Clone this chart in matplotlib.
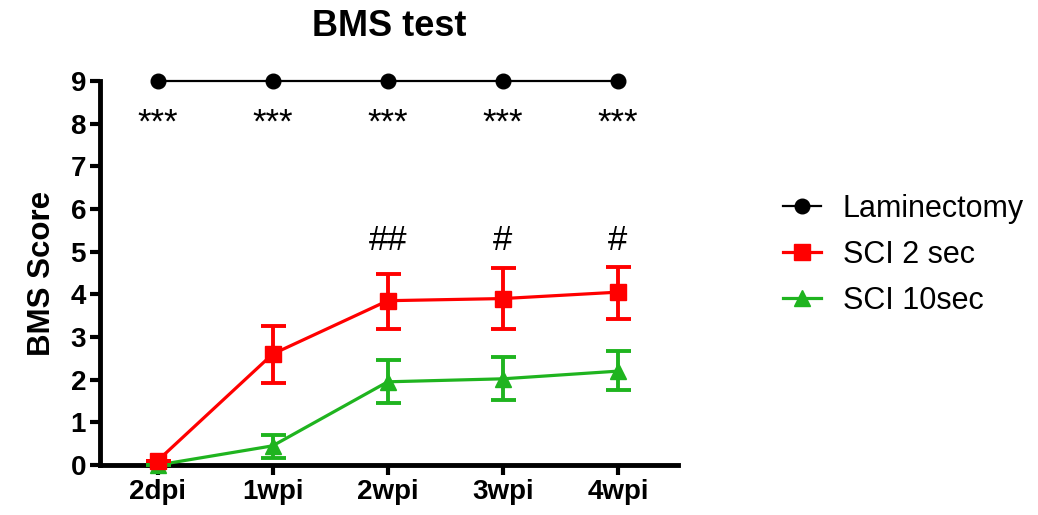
import numpy as np
import matplotlib.pyplot as plt
from matplotlib.lines import Line2D

plt.rcParams['font.family'] = ['Liberation Sans', 'DejaVu Sans']

# datos
tiempos = ['2dpi', '1wpi', '2wpi', '3wpi', '4wpi']
lamin = [9, 9, 9, 9, 9]
sci2 = [0.1, 2.6, 3.85, 3.9, 4.05]
sci2_lo = [0.1, 1.93, 3.18, 3.18, 3.43]
sci2_hi = [0.1, 3.25, 4.47, 4.62, 4.65]
sci10 = [0.0, 0.45, 1.95, 2.02, 2.2]
sci10_lo = [0.0, 0.16, 1.45, 1.52, 1.76]
sci10_hi = [0.0, 0.71, 2.45, 2.52, 2.66]
estrellas = ['***', '***', '***', '***', '***']
almohadillas = ['', '', '##', '#', '#']

x = np.arange(len(tiempos))
rojo = '#ff0000'
verde = '#1fb41f'

fig = plt.figure(figsize=(10.38, 5.15), dpi=100)
ax = fig.add_axes([0.0963, 0.097, 0.5567, 0.746])

err2 = [np.array(sci2) - np.array(sci2_lo), np.array(sci2_hi) - np.array(sci2)]
err10 = [np.array(sci10) - np.array(sci10_lo), np.array(sci10_hi) - np.array(sci10)]

ax.plot(x, lamin, color='black', lw=1.6, marker='o', ms=10.5, clip_on=False,
        zorder=5)
ax.errorbar(x, sci2, yerr=err2, color=rojo, lw=2.3, marker='s', ms=11.5,
            elinewidth=2.8, capsize=9, capthick=2.8, clip_on=False, zorder=4)
ax.errorbar(x, sci10, yerr=err10, color=verde, lw=2.3, marker='^', ms=11.5,
            elinewidth=2.8, capsize=9, capthick=2.8, clip_on=False, zorder=3)

for i, s in enumerate(estrellas):
    ax.text(x[i], 8.0, s, ha='center', va='center', fontsize=25)
for i, s in enumerate(almohadillas):
    if s:
        ax.text(x[i], 5.25, s, ha='center', va='center', fontsize=25)

ax.set_xlim(-0.5, 4.52)
ax.set_ylim(0, 9)
ax.set_xticks(x)
ax.set_xticklabels(tiempos, fontsize=20, fontweight='bold')
ax.set_yticks(range(10))
ax.set_yticklabels([str(v) for v in range(10)], fontsize=20, fontweight='bold')
ax.set_ylabel('BMS Score', fontsize=22.5, fontweight='bold', labelpad=10)
ax.set_title('BMS test', fontsize=26, fontweight='bold', pad=32)

for lado in ['top', 'right']:
    ax.spines[lado].set_visible(False)
for lado in ['left', 'bottom']:
    ax.spines[lado].set_linewidth(3.5)
ax.tick_params(width=3, length=7, pad=3)

handles = [
    Line2D([], [], color='black', lw=1.6, marker='o', ms=10.5),
    Line2D([], [], color=rojo, lw=2.3, marker='s', ms=11.5),
    Line2D([], [], color=verde, lw=2.3, marker='^', ms=11.5),
]
labels = ['Laminectomy', 'SCI 2 sec', 'SCI 10sec']
fig.legend(handles, labels, loc='center left', bbox_to_anchor=(0.728, 0.505),
           frameon=False, fontsize=22, handlelength=1.25, handletextpad=0.7,
           labelspacing=0.52)

plt.savefig('out.png', dpi=100)
